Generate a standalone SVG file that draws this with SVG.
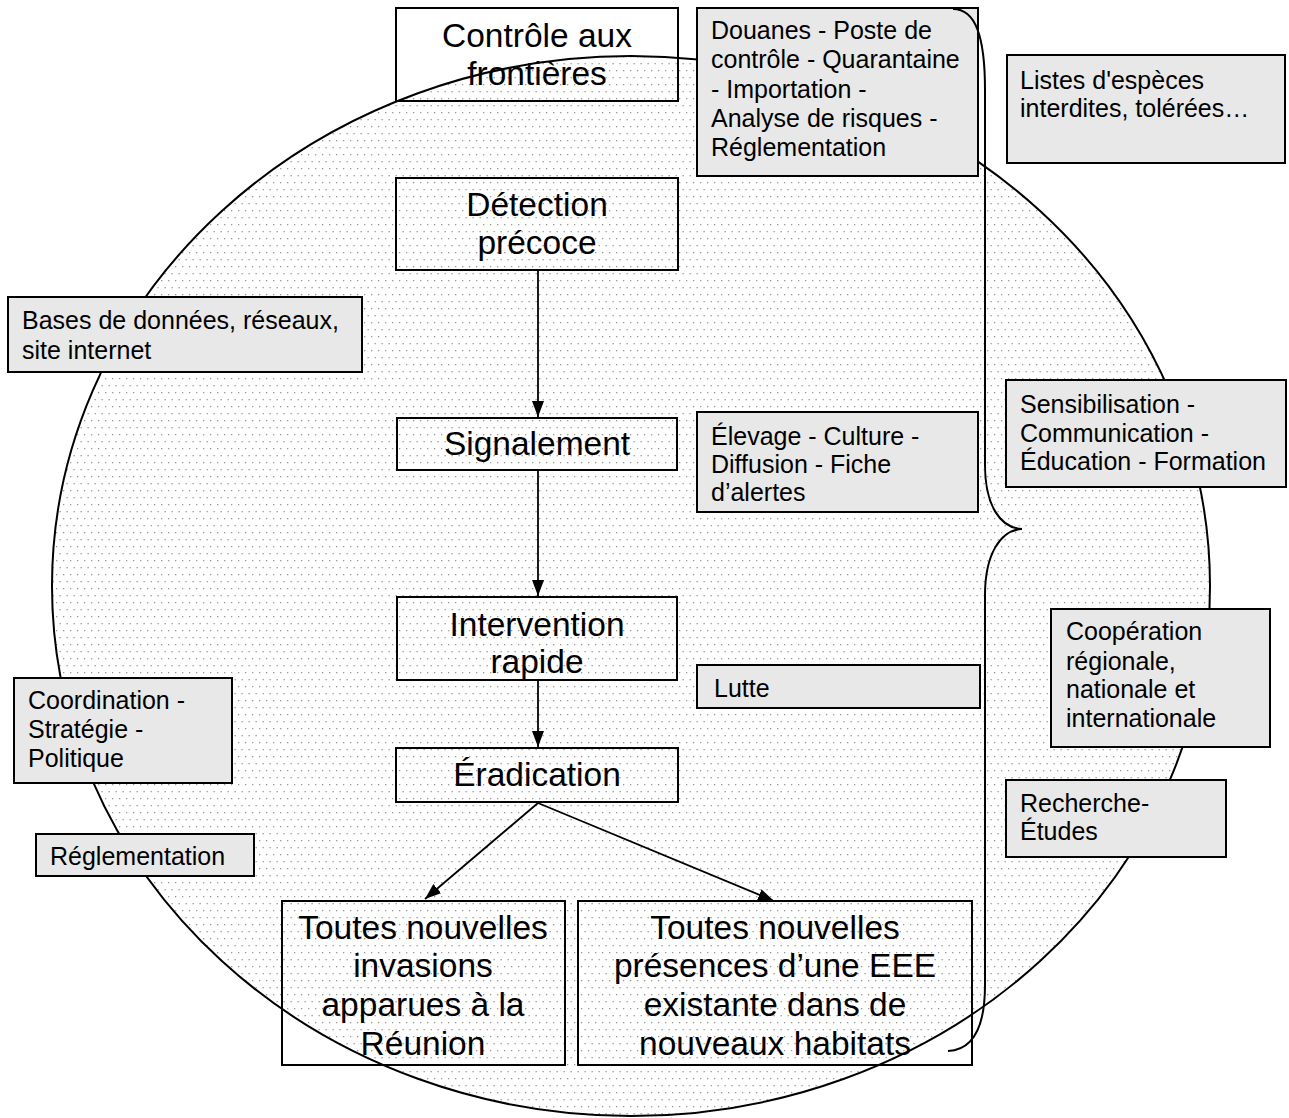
<svg xmlns="http://www.w3.org/2000/svg" width="1289" height="1118" viewBox="0 0 1289 1118">
<style>
.main{fill:none;stroke:#000;stroke-width:2}
.gray{fill:#e8e8e8;stroke:#000;stroke-width:2}
.mt{font-family:"Liberation Sans",Arial,sans-serif;font-size:33.5px;fill:#000;text-anchor:middle}
.gt{font-family:"Liberation Sans",Arial,sans-serif;font-size:25px;fill:#000}
.conn{stroke:#000;stroke-width:1.8;fill:none;marker-end:url(#ah)}
</style>
<defs>
<pattern id="dots" patternUnits="userSpaceOnUse" width="14" height="14">
<rect x="0" y="0" width="1.3" height="1.3" fill="#999"/>
<rect x="7" y="0" width="1.3" height="1.3" fill="#999"/>
<rect x="3.5" y="7" width="1.3" height="1.3" fill="#999"/>
<rect x="10.5" y="7" width="1.3" height="1.3" fill="#999"/>
</pattern>
<marker id="ah" markerWidth="16" markerHeight="12" refX="16" refY="6" orient="auto" markerUnits="userSpaceOnUse" viewBox="0 0 16 12">
<path d="M0,0 L16,6 L0,12 Z" fill="#000"/>
</marker>
</defs>
<rect width="1289" height="1118" fill="#fff"/>
<g id="scope">
<ellipse cx="631" cy="586" rx="579" ry="530" fill="url(#dots)" stroke="#000" stroke-width="2"/>
</g>
<g id="connectors">
<line class="conn" x1="538" y1="271" x2="538" y2="417"/>
<line class="conn" x1="538" y1="471" x2="538" y2="596"/>
<line class="conn" x1="538" y1="681" x2="538" y2="747"/>
<line class="conn" x1="538" y1="803" x2="425" y2="899"/>
<line class="conn" x1="538" y1="803" x2="774" y2="901"/>
</g>
<g id="controle">
<rect class="main" x="396" y="8" width="282" height="93"/>
<text class="mt" x="537" y="47">Contrôle aux</text>
<text class="mt" x="537" y="85">frontières</text>
</g>
<g id="detection">
<rect class="main" x="396" y="178" width="282" height="92"/>
<text class="mt" x="537" y="216">Détection</text>
<text class="mt" x="537" y="254">précoce</text>
</g>
<g id="signalement">
<rect class="main" x="397" y="418" width="280" height="52"/>
<text class="mt" x="537" y="455">Signalement</text>
</g>
<g id="intervention">
<rect class="main" x="397" y="597" width="280" height="83"/>
<text class="mt" x="537" y="636">Intervention</text>
<text class="mt" x="537" y="673">rapide</text>
</g>
<g id="eradication">
<rect class="main" x="396" y="748" width="282" height="54"/>
<text class="mt" x="537" y="786">Éradication</text>
</g>
<g id="invasions">
<rect class="main" x="282" y="901" width="283" height="164"/>
<text class="mt" x="423" y="939">Toutes nouvelles</text>
<text class="mt" x="423" y="977">invasions</text>
<text class="mt" x="423" y="1016">apparues à la</text>
<text class="mt" x="423" y="1055">Réunion</text>
</g>
<g id="presences">
<rect class="main" x="578" y="901" width="394" height="164"/>
<text class="mt" x="775" y="939">Toutes nouvelles</text>
<text class="mt" x="775" y="977">présences d’une EEE</text>
<text class="mt" x="775" y="1016">existante dans de</text>
<text class="mt" x="775" y="1055">nouveaux habitats</text>
</g>
<g id="douanes">
<rect class="gray" x="697" y="8" width="281" height="168"/>
<text class="gt" x="711" y="39">Douanes - Poste de</text>
<text class="gt" x="711" y="68">contrôle - Quarantaine</text>
<text class="gt" x="711" y="98">- Importation -</text>
<text class="gt" x="711" y="127">Analyse de risques -</text>
<text class="gt" x="711" y="156">Réglementation</text>
</g>
<g id="listes">
<rect class="gray" x="1007" y="55" width="278" height="108"/>
<text class="gt" x="1020" y="89">Listes d'espèces</text>
<text class="gt" x="1020" y="117">interdites, tolérées…</text>
</g>
<g id="bases">
<rect class="gray" x="8" y="297" width="354" height="75"/>
<text class="gt" x="22" y="329">Bases de données, réseaux,</text>
<text class="gt" x="22" y="359">site internet</text>
</g>
<g id="elevage">
<rect class="gray" x="697" y="412" width="281" height="100"/>
<text class="gt" x="711" y="445">Élevage - Culture -</text>
<text class="gt" x="711" y="473">Diffusion - Fiche</text>
<text class="gt" x="711" y="501">d’alertes</text>
</g>
<g id="sensibilisation">
<rect class="gray" x="1006" y="380" width="280" height="107"/>
<text class="gt" x="1020" y="413">Sensibilisation -</text>
<text class="gt" x="1020" y="442">Communication -</text>
<text class="gt" x="1020" y="470">Éducation - Formation</text>
</g>
<g id="lutte">
<rect class="gray" x="697" y="665" width="283" height="43"/>
<text class="gt" x="714" y="697">Lutte</text>
</g>
<g id="cooperation">
<rect class="gray" x="1051" y="609" width="219" height="138"/>
<text class="gt" x="1066" y="640">Coopération</text>
<text class="gt" x="1066" y="670">régionale,</text>
<text class="gt" x="1066" y="698">nationale et</text>
<text class="gt" x="1066" y="727">internationale</text>
</g>
<g id="recherche">
<rect class="gray" x="1006" y="780" width="220" height="77"/>
<text class="gt" x="1020" y="812">Recherche-</text>
<text class="gt" x="1020" y="840">Études</text>
</g>
<g id="coordination">
<rect class="gray" x="14" y="678" width="218" height="105"/>
<text class="gt" x="28" y="709">Coordination -</text>
<text class="gt" x="28" y="738">Stratégie -</text>
<text class="gt" x="28" y="767">Politique</text>
</g>
<g id="reglementation">
<rect class="gray" x="36" y="834" width="218" height="42"/>
<text class="gt" x="50" y="865">Réglementation</text>
</g>
<g id="brace">
<path d="M953,9 C975,9 985,35 985,90 L985,465 C985,505 1000,528 1022,529 C1000,530 985,555 985,595 L985,985 C985,1030 972,1050 948,1051" fill="none" stroke="#000" stroke-width="2"/>
</g>
</svg>
